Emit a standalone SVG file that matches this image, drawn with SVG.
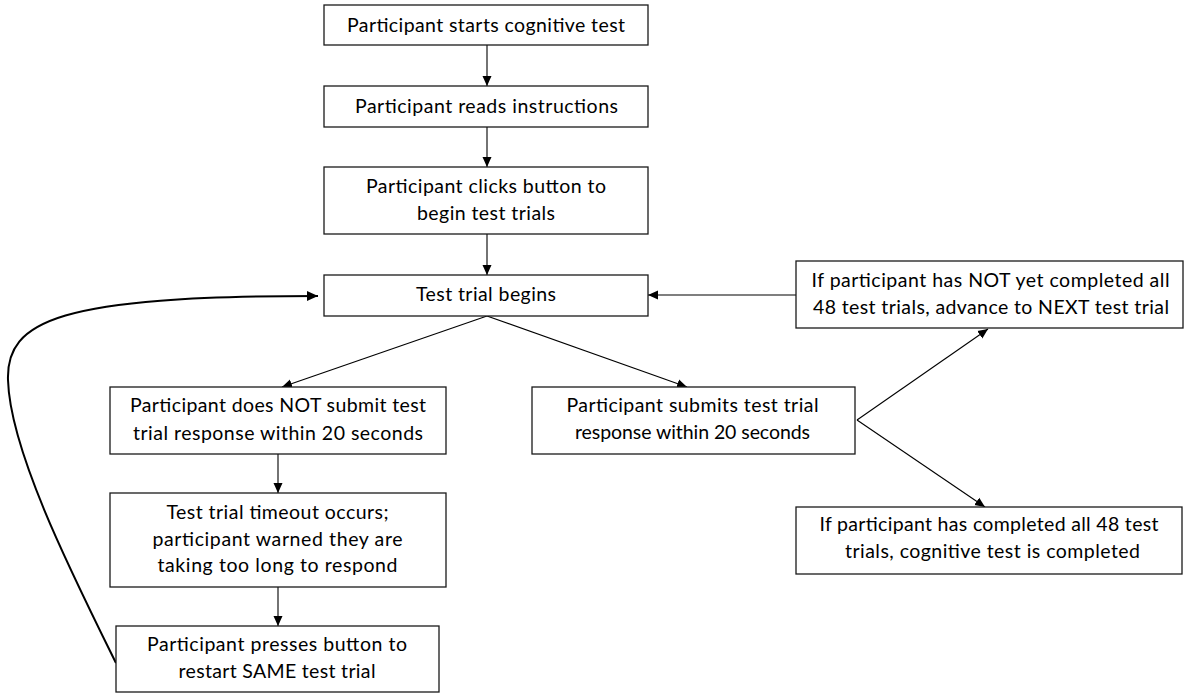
<svg xmlns="http://www.w3.org/2000/svg" width="1184" height="693" viewBox="0 0 1184 693">
<style>
.box{fill:#fff;stroke:#1a1a1a;stroke-width:1.3}
.t{font-family:Lato,"Open Sans","Liberation Sans",sans-serif;font-size:19.5px;fill:#000;text-anchor:middle}
.c{fill:none;stroke:#000;stroke-width:1.1}
.cv{fill:none;stroke:#000;stroke-width:2}
</style>
<defs>
<marker id="ah" viewBox="0 0 10 10" refX="10" refY="5" markerWidth="10" markerHeight="10" markerUnits="userSpaceOnUse" orient="auto"><path d="M0,0.5 L10,5 L0,9.5 z" fill="#000"/></marker>
<marker id="ah2" viewBox="0 0 10 10" refX="10" refY="5" markerWidth="12" markerHeight="11" markerUnits="userSpaceOnUse" orient="auto"><path d="M0,0.5 L10,5 L0,9.5 z" fill="#000"/></marker>
</defs>
<g id="connectors">
<path class="c" d="M487,45 L487,86" marker-end="url(#ah)"/>
<path class="c" d="M487,127 L487,167" marker-end="url(#ah)"/>
<path class="c" d="M487,234 L487,275" marker-end="url(#ah)"/>
<path class="c" d="M487,316 L282,387" marker-end="url(#ah)"/>
<path class="c" d="M487,316 L687,387" marker-end="url(#ah)"/>
<path class="c" d="M857,420 L988,329" marker-end="url(#ah)"/>
<path class="c" d="M857,420 L985,507" marker-end="url(#ah)"/>
<path class="c" d="M796,295 L648,295" marker-end="url(#ah)"/>
<path class="c" d="M278,454 L278,493" marker-end="url(#ah)"/>
<path class="c" d="M278,587 L278,626" marker-end="url(#ah)"/>
<path class="cv" d="M116,663 C70,570 10,450 8,380 C6,320 60,296 318,296" marker-end="url(#ah2)"/>
</g>
<g id="n1"><rect class="box" x="324" y="5" width="324" height="40"/>
<text class="t" x="486" y="32" textLength="278">Participant starts cognitive test</text></g>
<g id="n2"><rect class="box" x="324" y="86" width="324" height="41"/>
<text class="t" x="486.5" y="113" textLength="263">Participant reads instructions</text></g>
<g id="n3"><rect class="box" x="324" y="167" width="324" height="67"/>
<text class="t" x="486" y="193" textLength="240">Participant clicks button to</text>
<text class="t" x="486" y="220" textLength="138">begin test trials</text></g>
<g id="n4"><rect class="box" x="324" y="275" width="324" height="41"/>
<text class="t" x="486" y="301" textLength="140">Test trial begins</text></g>
<g id="n5"><rect class="box" x="110" y="387" width="336" height="67"/>
<text class="t" x="278" y="412" textLength="296">Participant does NOT submit test</text>
<text class="t" x="278" y="440" textLength="290">trial response within 20 seconds</text></g>
<g id="n6"><rect class="box" x="110" y="493" width="336" height="94"/>
<text class="t" x="277.5" y="519" textLength="222">Test trial timeout occurs;</text>
<text class="t" x="277.5" y="546" textLength="250">participant warned they are</text>
<text class="t" x="277.5" y="572" textLength="240">taking too long to respond</text></g>
<g id="n7"><rect class="box" x="116" y="626" width="323" height="66"/>
<text class="t" x="277" y="651" textLength="260">Participant presses button to</text>
<text class="t" x="277" y="678" textLength="197">restart SAME test trial</text></g>
<g id="n8"><rect class="box" x="532" y="387" width="323" height="67"/>
<text class="t" x="692.5" y="412" textLength="252">Participant submits test trial</text>
<text class="t" x="692.5" y="439" textLength="235">response within 20 seconds</text></g>
<g id="n9"><rect class="box" x="796" y="261" width="387" height="67"/>
<text class="t" x="990.5" y="287" textLength="358">If participant has NOT yet completed all</text>
<text class="t" x="991" y="314" textLength="356">48 test trials, advance to NEXT test trial</text></g>
<g id="n10"><rect class="box" x="796" y="507" width="386" height="67"/>
<text class="t" x="989" y="531" textLength="339">If participant has completed all 48 test</text>
<text class="t" x="992.5" y="558" textLength="295">trials, cognitive test is completed</text></g>
</svg>
